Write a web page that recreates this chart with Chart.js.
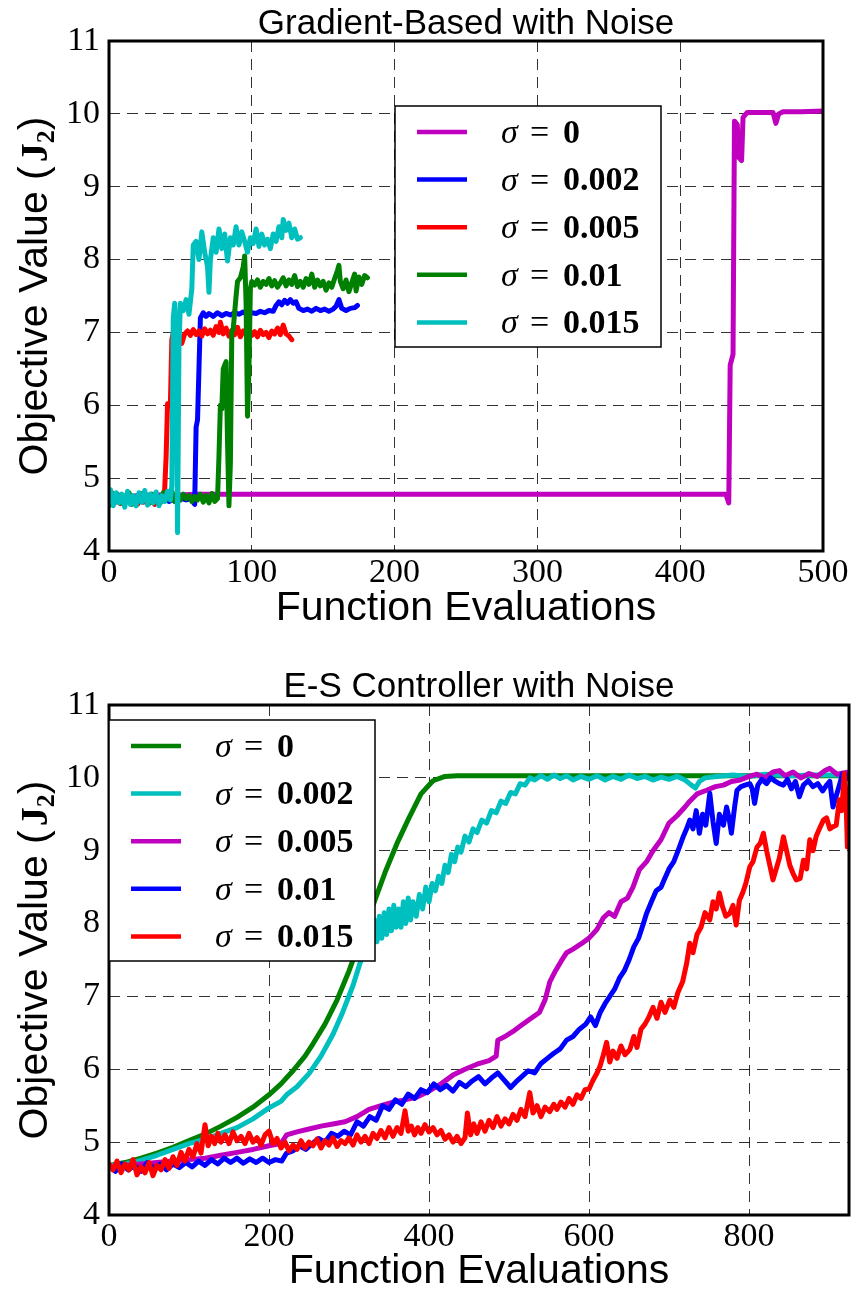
<!DOCTYPE html>
<html>
<head>
<meta charset="utf-8">
<script src="https://cdn.jsdelivr.net/npm/chart.js@4.4.0/dist/chart.umd.min.js"></script>
<style>
  body { margin: 0; background: #fff; }
  #wrap { position: relative; width: 852px; height: 1289px; }
  #topChart { position: absolute; left: 0; top: 0; }
  #botChart { position: absolute; left: 0; top: 640px; }
</style>
</head>
<body>
<div id="wrap">
  <canvas id="topChart" width="852" height="640"></canvas>
  <canvas id="botChart" width="852" height="649"></canvas>
</div>
<script>
// ---- data: gradient-based (top) ----
var gbX0 = [0,10,20,30,40,50,60,80,100,150,200,250,300,350,400,432,434,435,437,438,
            440,441,443,444,447,455,465,467,469,472,485,500];
var gbY0 = [4.72,4.74,4.76,4.77,4.77,4.77,4.78,4.78,4.78,4.78,4.78,4.78,4.78,4.78,4.78,4.78,4.66,6.55,6.7,9.9,
            9.85,9.4,9.36,9.95,10.02,10.02,10.02,9.87,10.0,10.03,10.03,10.04];

var gbX2 = [0,3,6,9,12,15,18,21,24,27,30,33,36,39,42,45,48,51,54,57,
            60,61,62,63,64,66,68,70,73,76,79,82,85,88,91,94,97,100,103,106,
            109,112,115,117,119,121,123,125,127,129,131,133,136,139,142,145,148,151,154,157,
            159,161,163,166,169,172,174];
var gbY2 = [4.7,4.74,4.68,4.73,4.67,4.72,4.69,4.74,4.68,4.72,4.67,4.73,4.69,4.72,4.68,4.71,4.69,4.72,4.7,4.72,
            4.64,5.7,5.8,6.5,7.2,7.27,7.22,7.26,7.22,7.27,7.23,7.26,7.24,7.27,7.25,7.28,7.25,7.27,7.26,7.29,
            7.27,7.3,7.29,7.37,7.42,7.38,7.44,7.4,7.45,7.4,7.42,7.33,7.3,7.32,7.29,7.33,7.3,7.32,7.29,7.32,
            7.36,7.45,7.33,7.3,7.33,7.34,7.37];

var gbX5 = [0,2,4,6,8,10,12,14,16,18,20,22,24,26,28,30,32,34,36,38,
            39,40,41,42,43,44,45,47,49,51,53,55,57,59,61,63,65,67,69,71,
            73,75,77,78,80,82,84,86,88,90,92,94,96,98,100,102,104,106,108,110,
            112,114,116,118,120,122,124,126,128];
var gbY5 = [4.68,4.74,4.66,4.72,4.65,4.73,4.68,4.75,4.66,4.71,4.64,4.72,4.67,4.74,4.66,4.7,4.64,4.72,4.68,4.74,
            4.85,5.3,6.02,6.0,6.02,6.9,7.0,6.88,6.95,6.85,6.98,7.02,6.96,7.04,6.97,7.02,6.95,7.05,6.98,7.03,
            6.96,7.08,7.0,7.14,6.98,7.06,6.95,7.03,6.97,7.07,6.94,7.02,6.98,7.05,6.96,7.01,6.94,7.03,6.97,7.0,
            6.93,7.02,6.98,7.06,6.97,7.1,6.98,6.95,6.9];

var gbX10 = [0,2,4,6,8,10,12,14,16,18,20,22,24,26,28,30,32,34,36,38,
             40,42,44,46,48,50,52,54,56,58,60,62,64,66,68,70,72,74,76,
             77,78,79,80,81,82,83,84,85,86,87,89,90,92,94,95,96,97,98,99,100,
             102,104,106,108,110,112,114,116,118,120,122,124,126,128,130,132,134,136,138,140,
             142,144,146,148,150,152,154,156,158,160,
             161,162,164,166,168,170,172,173,175,177,179,181];
var gbY10 = [4.62,4.8,4.7,4.78,4.66,4.76,4.68,4.8,4.64,4.74,4.67,4.79,4.7,4.76,4.65,4.78,4.69,4.75,4.66,4.8,
             4.7,4.76,4.82,4.68,4.74,4.7,4.78,4.72,4.76,4.68,4.75,4.7,4.78,4.67,4.76,4.66,4.79,4.68,4.72,
             5.3,6.0,5.95,6.5,6.55,6.6,5.5,4.62,5.2,7.0,7.05,7.5,7.7,7.75,7.9,8.05,7.4,5.85,6.5,7.6,7.7,
             7.65,7.72,7.62,7.7,7.66,7.74,7.64,7.71,7.62,7.68,7.75,7.64,7.72,7.66,7.78,7.63,7.7,7.62,7.74,7.66,
             7.8,7.62,7.72,7.64,7.7,7.58,7.68,7.62,7.74,7.85,
             7.92,7.7,7.6,7.72,7.56,7.68,7.8,7.57,7.76,7.66,7.78,7.75];

var gbX15 = [0,1,3,5,7,9,11,13,15,17,19,21,23,25,27,29,31,33,35,37,
             39,41,43,44,45,46,47,48,49,50,52,54,56,58,59,61,63,65,67,69,
             70,71,73,75,77,79,81,83,85,87,89,91,93,95,97,99,101,103,105,107,
             109,111,113,115,117,119,121,122,124,126,128,130,132,134];
var gbY15 = [4.68,4.84,4.62,4.8,4.66,4.78,4.6,4.82,4.64,4.76,4.62,4.8,4.67,4.83,4.63,4.78,4.66,4.81,4.62,4.76,
             4.68,4.82,4.7,4.9,7.2,7.4,7.0,4.25,6.8,7.4,7.3,7.45,7.25,7.6,8.2,8.25,8.0,8.38,8.1,7.9,
             7.55,8.0,8.3,8.1,8.42,8.15,8.35,7.98,8.3,8.2,8.45,8.2,8.38,8.25,8.1,8.3,8.22,8.42,8.18,8.35,
             8.2,8.28,8.15,8.35,8.25,8.45,8.3,8.55,8.4,8.5,8.3,8.42,8.28,8.3];

// ---- data: E-S controller (bottom) ----
var esX0 = [0,20,40,60,80,100,120,140,160,180,200,215,230,245,255,270,285,300,315,330,
            345,360,375,390,405,420,435,500,600,700,800,925];
var esY0 = [4.68,4.72,4.78,4.85,4.93,5.02,5.11,5.22,5.34,5.48,5.65,5.8,5.98,6.18,6.35,6.62,6.95,7.35,7.8,8.25,
            8.7,9.1,9.45,9.78,9.96,10.02,10.03,10.03,10.03,10.03,10.03,10.03];

var esX2 = [0,20,40,60,80,100,120,140,160,180,200,215,222,235,250,265,280,292,305,315,
            322,326,329,332,335,338,341,344,347,350,353,356,359,362,365,368,371,374,377,380,
            384,388,392,396,400,404,408,412,416,420,424,428,432,436,440,445,450,455,460,466,
            472,478,484,490,496,502,508,514,520,526,532,540,548,556,564,572,580,590,600,610,
            620,630,640,650,660,670,680,690,700,710,720,728,733,738,745,760,780,800,820,850,
            880,925];
var esY2 = [4.68,4.7,4.75,4.82,4.9,4.98,5.04,5.12,5.2,5.32,5.47,5.56,5.65,5.76,5.94,6.18,6.48,6.78,7.15,7.5,
            7.72,7.95,7.7,8.05,7.75,8.1,7.8,8.15,7.85,8.2,7.9,8.25,7.95,8.2,7.95,8.3,8.0,8.35,8.05,8.3,
            8.1,8.4,8.2,8.5,8.3,8.55,8.45,8.65,8.55,8.8,8.7,8.95,8.85,9.05,8.98,9.2,9.12,9.3,9.25,9.42,
            9.38,9.55,9.52,9.68,9.65,9.8,9.78,9.92,9.9,10.0,9.97,10.03,9.98,10.04,9.99,10.03,9.97,10.02,9.98,10.03,
            9.97,10.02,9.98,10.04,9.99,10.02,9.97,10.01,9.98,10.02,9.97,9.9,9.86,9.95,10.0,10.02,10.04,10.02,10.05,10.03,
            10.04,10.04];

var esX5 = [0,20,40,60,80,100,120,140,160,180,200,215,222,235,250,265,280,295,310,325,
            340,355,370,385,400,415,430,445,460,475,484,486,495,505,515,525,538,545,551,558,
            565,572,580,590,600,610,618,625,632,640,648,655,663,672,680,690,700,710,720,726,
            735,747,758,768,778,789,800,810,820,830,838,845,855,865,875,885,895,901,910,925];
var esY5 = [4.65,4.68,4.7,4.72,4.74,4.76,4.78,4.82,4.86,4.9,4.95,4.98,5.1,5.14,5.18,5.22,5.25,5.28,5.35,5.45,
            5.5,5.55,5.58,5.62,5.7,5.8,5.92,6.0,6.07,6.12,6.18,6.4,6.45,6.52,6.6,6.68,6.78,6.95,7.2,7.35,
            7.48,7.6,7.65,7.72,7.8,7.92,8.08,8.15,8.1,8.3,8.35,8.5,8.74,8.85,9.0,9.15,9.38,9.48,9.6,9.68,
            9.78,9.83,9.88,9.9,9.95,9.97,10.02,10.05,10.0,10.08,10.1,10.03,10.08,10.0,10.06,10.02,10.1,10.13,10.05,10.08];

var esX10 = [0,8,16,24,32,40,48,56,64,72,80,88,96,104,112,120,128,136,144,152,
             160,168,176,184,192,200,208,216,222,230,238,246,254,262,270,278,286,294,302,310,
             318,326,334,342,350,358,366,374,382,390,398,406,414,422,430,438,446,454,462,470,
             478,486,494,502,509,516,524,532,540,548,556,564,572,580,588,596,602,608,614,620,
             626,632,638,644,650,656,662,668,672,678,684,690,694,700,706,713,718,722,726,730,
             734,738,742,746,751,755,759,763,768,772,775,778,782,785,790,795,801,804,807,811,
             816,822,827,832,838,843,848,853,858,863,868,874,880,886,892,897,901,905,909,913,
             917,921,925];
var esY10 = [4.68,4.6,4.7,4.62,4.68,4.6,4.72,4.64,4.7,4.62,4.7,4.65,4.72,4.66,4.74,4.68,4.76,4.7,4.78,4.72,
             4.78,4.71,4.77,4.72,4.78,4.72,4.76,4.74,4.85,4.88,4.95,4.9,4.98,5.05,5.0,5.12,5.08,5.15,5.1,5.28,
             5.22,5.35,5.3,5.5,5.45,5.58,5.52,5.66,5.6,5.72,5.68,5.8,5.72,5.78,5.7,5.82,5.76,5.84,5.9,5.8,
             5.88,5.95,5.85,5.75,5.83,5.9,5.98,5.95,6.08,6.15,6.22,6.28,6.4,6.45,6.55,6.62,6.72,6.6,6.78,6.9,
             7.0,7.1,7.25,7.35,7.5,7.68,7.8,8.0,8.14,8.3,8.45,8.5,8.6,8.75,8.85,9.05,9.2,9.3,9.42,9.3,
             9.55,9.24,9.5,9.35,9.79,9.4,9.1,9.5,9.35,9.6,9.45,9.24,9.6,9.83,9.88,9.9,9.92,9.85,9.65,9.9,
             9.98,9.92,10.0,9.96,9.92,9.9,9.98,9.85,9.95,9.74,9.9,9.96,9.88,9.92,9.82,9.9,9.95,9.6,9.75,9.9,
             10.06,9.98,10.05];

var esX15 = [0,5,10,15,20,25,30,35,40,45,50,55,60,65,70,75,80,85,90,95,
             100,105,110,115,120,124,128,132,136,140,145,150,155,160,165,170,175,180,185,190,
             195,200,205,210,215,220,225,230,235,240,245,250,255,260,265,270,275,280,285,290,
             295,300,305,310,315,320,325,330,335,340,345,350,355,360,365,370,374,378,382,386,
             390,395,400,405,410,415,420,425,430,435,440,445,448,452,456,460,465,470,475,480,
             485,490,495,500,505,510,515,520,526,530,535,540,545,551,556,560,565,570,575,580,
             585,590,595,600,605,610,614,618,622,626,630,635,640,645,651,656,660,665,670,675,
             680,685,690,695,701,706,711,717,722,726,730,735,740,745,751,755,759,763,767,771,
             776,780,784,788,792,796,801,805,810,814,818,822,826,830,834,838,843,847,851,855,
             859,864,868,872,876,880,884,888,893,897,901,905,909,913,916,919,921,923,925];
var esY15 = [4.7,4.62,4.74,4.58,4.7,4.62,4.76,4.55,4.66,4.58,4.72,4.54,4.68,4.62,4.76,4.64,4.8,4.68,4.86,4.74,
             4.9,4.8,4.98,4.85,5.24,4.95,5.08,4.98,5.12,5.0,5.1,4.98,5.14,5.02,5.08,4.98,5.12,5.0,5.06,4.96,
             5.1,5.15,4.98,5.05,4.92,5.0,4.88,4.96,4.9,5.02,4.92,5.0,4.95,5.04,4.92,5.02,4.96,5.06,4.94,5.02,
             4.98,5.06,4.96,5.1,5.0,5.08,4.98,5.12,5.05,5.16,5.06,5.2,5.08,5.2,5.12,5.43,5.15,5.22,5.1,5.2,
             5.12,5.24,5.14,5.2,5.1,5.16,5.04,5.1,5.0,5.08,4.98,5.06,5.4,5.1,5.25,5.12,5.28,5.15,5.3,5.2,
             5.35,5.22,5.32,5.25,5.38,5.3,5.45,5.35,5.68,5.4,5.5,5.35,5.48,5.42,5.52,5.45,5.55,5.48,5.6,5.52,
             5.65,5.6,5.72,5.73,5.85,5.95,6.05,6.2,6.37,6.1,6.25,6.15,6.32,6.2,6.27,6.45,6.3,6.55,6.62,6.72,
             6.85,6.7,6.92,6.78,6.95,6.85,7.05,7.2,7.45,7.73,7.6,7.85,7.95,8.15,8.05,8.3,8.2,8.42,8.23,8.1,
             8.14,8.25,7.98,8.32,8.42,8.55,8.78,8.85,9.05,9.1,9.24,9.0,8.8,8.6,8.75,8.9,9.19,9.0,8.8,8.69,
             8.6,8.62,8.87,8.75,9.15,9.0,9.2,9.3,9.42,9.45,9.3,9.33,9.35,9.7,9.55,10.06,9.8,9.05,9.2];

var sigmaLabels = ['0', '0.002', '0.005', '0.01', '0.015'];
var yTicksMin = 4, yTicksMax = 11;

var serif = "'Liberation Serif', 'DejaVu Serif', serif";
var sans = "'Liberation Sans', Arial, sans-serif";

function pts(xs, ys) {
  return xs.map(function (x, i) { return { x: x, y: ys[i] }; });
}

// frame, titles and legend drawn on top of the plot
var decorPlugin = {
  id: 'decor',
  afterDraw: function (chart) {
    var o = chart.options.plugins.decor;
    var ctx = chart.ctx;
    var a = chart.chartArea;
    var cx = (a.left + a.right) / 2;
    ctx.save();

    // frame
    ctx.strokeStyle = '#000';
    ctx.lineWidth = 3;
    ctx.strokeRect(a.left, a.top, a.right - a.left, a.bottom - a.top);

    // title + x label
    ctx.fillStyle = '#000';
    ctx.textAlign = 'center';
    ctx.textBaseline = 'alphabetic';
    ctx.font = '35px ' + sans;
    ctx.fillText(o.title, cx, o.titleY);
    ctx.font = '41px ' + sans;
    ctx.fillText('Function Evaluations', cx, o.xLabelY);

    // y label, rotated, with bold J_2
    var cy = (a.top + a.bottom) / 2;
    ctx.save();
    ctx.translate(47, cy);
    ctx.rotate(-Math.PI / 2);
    ctx.textAlign = 'left';
    var parts = [
      { t: 'Objective Value (', f: '41px ' + sans, dy: 0 },
      { t: 'J', f: 'bold 38px ' + serif, dy: 0 },
      { t: '2', f: 'bold 26px ' + serif, dy: 7 },
      { t: ')', f: '41px ' + sans, dy: 0 }
    ];
    var total = 0;
    parts.forEach(function (p) { ctx.font = p.f; p.w = ctx.measureText(p.t).width; total += p.w; });
    total += 4;
    var x = -total / 2;
    parts.forEach(function (p, i) {
      ctx.font = p.f;
      ctx.fillText(p.t, x, p.dy);
      x += p.w + (i === 0 ? 4 : 0);
    });
    ctx.restore();

    // legend
    var b = o.legend;
    ctx.fillStyle = '#fff';
    ctx.fillRect(b.x, b.y, b.w, b.h);
    ctx.strokeStyle = '#000';
    ctx.lineWidth = 1.5;
    ctx.strokeRect(b.x, b.y, b.w, b.h);
    chart.data.datasets.forEach(function (ds, i) {
      var yy = b.y + 26 + i * 47.6;
      ctx.strokeStyle = ds.borderColor;
      ctx.lineWidth = 4.5;
      ctx.beginPath();
      ctx.moveTo(b.x + 22, yy);
      ctx.lineTo(b.x + 72, yy);
      ctx.stroke();
      ctx.fillStyle = '#000';
      ctx.textAlign = 'left';
      ctx.textBaseline = 'middle';
      var tx = b.x + 106;
      ctx.font = 'italic 34px ' + serif;
      ctx.fillText('σ', tx, yy + 2);
      ctx.font = '34px ' + serif;
      ctx.fillText('=', tx + 29, yy + 2);
      ctx.font = 'bold 34px ' + serif;
      ctx.fillText(ds.label, tx + 62, yy + 2);
    });
    ctx.restore();
  }
};

function makeChart(id, cfg) {
  var n = cfg.series.length;
  var datasets = cfg.series.map(function (s, i) {
    return {
      label: s.label,
      data: pts(s.x, s.y),
      borderColor: s.color,
      backgroundColor: s.color,
      borderWidth: 5,
      borderJoinStyle: 'round',
      borderCapStyle: 'round',
      pointRadius: 0,
      tension: 0,
      fill: false,
      order: n - i
    };
  });
  return new Chart(document.getElementById(id), {
    type: 'line',
    data: { datasets: datasets },
    options: {
      responsive: false,
      animation: false,
      devicePixelRatio: 1,
      layout: { padding: { top: cfg.top, right: 852 - cfg.right, left: 0, bottom: 0 } },
      plugins: {
        legend: { display: false },
        tooltip: { enabled: false },
        decor: { title: cfg.title, titleY: cfg.titleY, xLabelY: cfg.xLabelY, legend: cfg.legend }
      },
      scales: {
        x: {
          type: 'linear',
          min: 0,
          max: cfg.xMax,
          ticks: {
            stepSize: cfg.xStep, includeBounds: false, autoSkip: false, maxRotation: 0,
            color: '#000', padding: 2, font: { family: serif, size: 34 }
          },
          grid: { color: 'rgba(0,0,0,0.8)', lineWidth: 1, drawTicks: false },
          border: { display: false, dash: [11, 7] },
          afterFit: function (s) { s.height = cfg.canvasH - cfg.bottom; }
        },
        y: {
          min: yTicksMin,
          max: yTicksMax,
          ticks: {
            stepSize: 1, color: '#000', padding: 9, font: { family: serif, size: 34 }
          },
          grid: { color: 'rgba(0,0,0,0.8)', lineWidth: 1, drawTicks: false },
          border: { display: false, dash: [11, 7] },
          afterFit: function (s) { s.width = 109; }
        }
      }
    },
    plugins: [decorPlugin]
  });
}

makeChart('topChart', {
  canvasH: 640, top: 41, bottom: 551, right: 823,
  xMax: 500, xStep: 100,
  title: 'Gradient-Based with Noise', titleY: 34, xLabelY: 620,
  legend: { x: 395, y: 106, w: 266, h: 241 },
  series: [
    { label: sigmaLabels[0], x: gbX0, y: gbY0, color: '#bf00bf' },
    { label: sigmaLabels[1], x: gbX2, y: gbY2, color: '#0000ff' },
    { label: sigmaLabels[2], x: gbX5, y: gbY5, color: '#ff0000' },
    { label: sigmaLabels[3], x: gbX10, y: gbY10, color: '#008000' },
    { label: sigmaLabels[4], x: gbX15, y: gbY15, color: '#00bfbf' }
  ]
});

makeChart('botChart', {
  canvasH: 649, top: 65, bottom: 575, right: 849,
  xMax: 925, xStep: 200,
  title: 'E-S Controller with Noise', titleY: 57, xLabelY: 643,
  legend: { x: 109, y: 80, w: 266, h: 241 },
  series: [
    { label: sigmaLabels[0], x: esX0, y: esY0, color: '#008000' },
    { label: sigmaLabels[1], x: esX2, y: esY2, color: '#00bfbf' },
    { label: sigmaLabels[2], x: esX5, y: esY5, color: '#bf00bf' },
    { label: sigmaLabels[3], x: esX10, y: esY10, color: '#0000ff' },
    { label: sigmaLabels[4], x: esX15, y: esY15, color: '#ff0000' }
  ]
});
</script>
</body>
</html>
